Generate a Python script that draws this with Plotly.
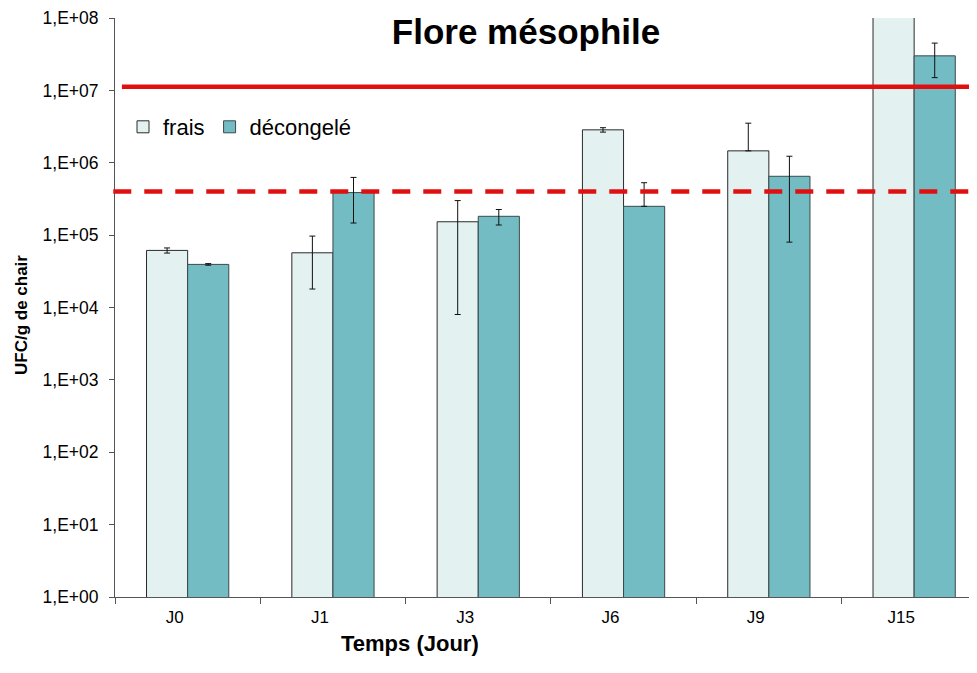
import plotly.graph_objects as go

categories = ["J0", "J1", "J3", "J6", "J9", "J15"]
frais = [6.15e4, 5.7e4, 1.53e5, 2.85e6, 1.46e6, 1.5e8]
frais_err_plus = [5.0e3, 4.0e4, 1.47e5, 2.0e5, 2.06e6, 0]
frais_err_minus = [5.0e3, 3.9e4, 1.45e5, 2.0e5, 0, 0]
decongele = [3.94e4, 3.87e5, 1.82e5, 2.5e5, 6.5e5, 3.0e7]
dec_err_plus = [1.0e3, 2.4e5, 4.4e4, 2.8e5, 5.8e5, 1.5e7]
dec_err_minus = [1.0e3, 2.4e5, 4.4e4, 0, 5.7e5, 1.5e7]

seuil_m = 4.0e5     # dashed red line
seuil_M = 1.12e7    # solid red line

ytick_vals = [1, 10, 100, 1e3, 1e4, 1e5, 1e6, 1e7, 1e8]
ytick_text = ["1,E+00", "1,E+01", "1,E+02", "1,E+03", "1,E+04",
              "1,E+05", "1,E+06", "1,E+07", "1,E+08"]

FONT = "Arial, 'Liberation Sans', sans-serif"

# the page body has an 8px margin: figure coordinates are shifted by 8px
OFF = 8
W, H = 977 - OFF, 673 - 2 * OFF
L, T = 115 - OFF, 18 - OFF
PW = W - L
PH = 597 - 18
B = H - T - PH

fig = go.Figure()
fig.add_trace(go.Bar(
    x=categories, y=frais, name="frais",
    marker=dict(color="#E4F1F1", line=dict(color="#2a2a2a", width=1)),
    error_y=dict(type="data", symmetric=False, array=frais_err_plus,
                 arrayminus=frais_err_minus, color="#111", thickness=1, width=3),
))
fig.add_trace(go.Bar(
    x=categories, y=decongele, name="décongelé",
    marker=dict(color="#74BCC3", line=dict(color="#3a4a4a", width=1)),
    error_y=dict(type="data", symmetric=False, array=dec_err_plus,
                 arrayminus=dec_err_minus, color="#111", thickness=1, width=3),
))

fig.add_shape(type="line", xref="paper", yref="y", x0=0.008, x1=1,
              y0=seuil_M, y1=seuil_M, line=dict(color="#E01010", width=4.5))
fig.add_shape(type="line", xref="paper", yref="y", x0=-0.002, x1=1,
              y0=seuil_m, y1=seuil_m,
              line=dict(color="#E01010", width=4.5, dash="18px,13px"))


def px_x(sx):
    return (sx - OFF - L) / PW


def px_y(sy):
    return (T + PH - (sy - OFF)) / PH


fig.update_layout(
    width=W, height=H,
    margin=dict(l=L, r=0, t=T, b=B, autoexpand=False),
    paper_bgcolor="white", plot_bgcolor="white",
    barmode="group", bargap=0.434, bargroupgap=0,
    font=dict(family=FONT, color="black"),
    title=dict(text="<b>Flore mésophile</b>", x=(526 - OFF) / W, xanchor="center",
               y=1 - (32 - OFF) / H, yanchor="middle", yref="container",
               font=dict(size=35, family=FONT, color="black")),
    showlegend=True,
    legend=dict(orientation="h", x=px_x(123), y=px_y(127),
                xanchor="left", yanchor="middle", bgcolor="rgba(0,0,0,0)",
                font=dict(size=22, family=FONT), itemwidth=30),
    xaxis=dict(type="category", range=[-0.5, -0.5 + PW / 145.3],
               showline=True, linecolor="#555", linewidth=1,
               ticks="outside", tickson="boundaries", ticklen=6,
               tickcolor="#555", showgrid=False, zeroline=False,
               ticklabelstandoff=5, ticklabelshift=-13,
               tickfont=dict(size=17, family=FONT)),
    yaxis=dict(type="log", range=[0, 8], tickvals=ytick_vals,
               ticktext=ytick_text, showline=True, linecolor="#555",
               linewidth=1, ticks="outside", ticklen=5, tickcolor="#555",
               showgrid=False, zeroline=False, ticklabelstandoff=7,
               tickfont=dict(size=17.5, family=FONT)),
    annotations=[
        dict(text="<b>Temps (Jour)</b>", xref="paper", yref="paper",
             x=px_x(410), y=px_y(643), xanchor="center",
             yanchor="middle", showarrow=False,
             font=dict(size=22, family=FONT)),
        dict(text="<b>UFC/g de chair</b>", xref="paper", yref="paper",
             x=px_x(21), y=px_y(315), xanchor="center",
             yanchor="middle", textangle=-90, showarrow=False,
             font=dict(size=17, family=FONT)),
    ],
)

fig.write_html("out.html")
